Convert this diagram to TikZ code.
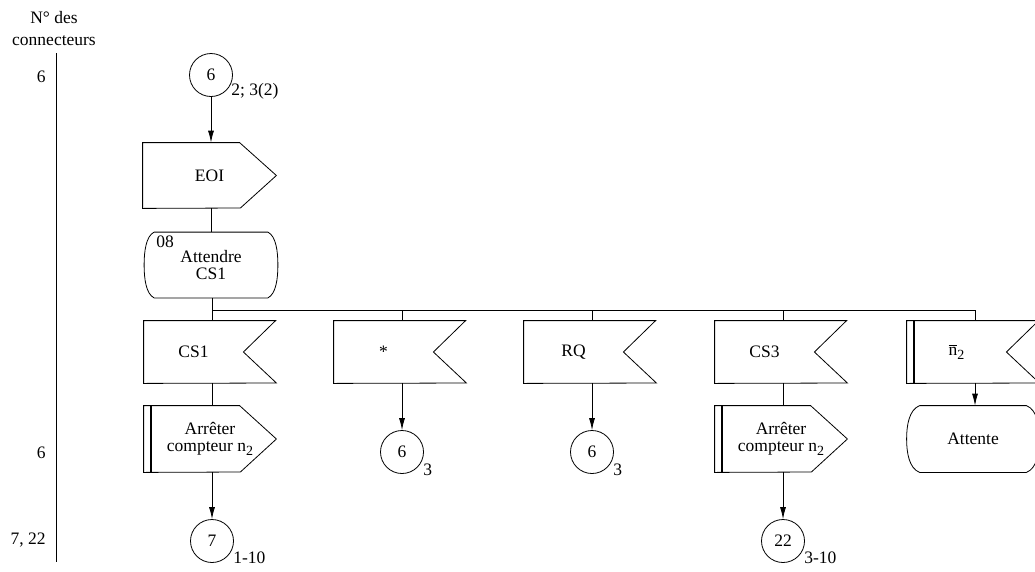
\documentclass[tikz,border=0pt]{standalone}
\usepackage{fontspec}
\setmainfont{Liberation Serif}
\usepackage{tikz}
\usetikzlibrary{arrows.meta}

\tikzset{
    texte/.style={font=\fontsize{17.5}{17}\selectfont},
    boite/.style={texte, inner sep=0pt, align=center},
    connecteur/.style={texte, draw, circle, minimum size=43pt, inner sep=0pt},
    renvoi/.style={texte, anchor=west, inner sep=0pt},
}

\begin{document}
\begin{tikzpicture}[x=1pt, y=-1pt, line width=0.8pt, >={Latex[length=12pt, width=6pt]}]
\useasboundingbox (0,0) rectangle (1035,571);

% Colonne des numéros de connecteurs
\node[align=center, inner sep=0pt, font=\fontsize{17.5}{22}\selectfont] (titre) at (54,29) {N° des\\connecteurs};
\coordinate (haut) at (56,53);
\coordinate (bas) at (56,562);
\draw (haut) -- (bas);
\foreach \y/\num in {77/6, 453/6, 540/{7, 22}}{
    \node[texte, anchor=east, inner sep=0pt] (num\y) at (46,\y) {\num};
}

% Connecteur d'entrée
\node[connecteur] (c6) at (211,75) {6};
\node[renvoi] (r6) at (231,91) {2; 3(2)};

% Sortie EOI
\node[boite, minimum width=133pt, minimum height=65pt] (EOI) at (209.5,175.5) {EOI};
\draw (EOI.north west) -- ++(97,0) -- (EOI.east) -- ++(-36,32.5) -- (EOI.south west) -- cycle;
\draw[->] (c6.south) -- (c6.south |- EOI.north);

% États
\node[boite, minimum width=133pt, minimum height=65pt] (att) at (211,265) {Attendre\\CS1};
\node[texte, inner sep=0pt] (etat) at (165,242) {08};
\node[boite, minimum width=132pt, minimum height=66pt] (attente) at (973,439) {Attente};
\foreach \n/\d in {att/10, attente/13}{
    \draw ([xshift=\d]\n.north west) -- ([xshift=-\d]\n.north east)
        .. controls +(0.8*\d,4) and +(0,-14) .. (\n.east)
        .. controls +(0,14) and +(0.8*\d,-4) .. ([xshift=-\d]\n.south east)
        -- ([xshift=\d]\n.south west)
        .. controls +(-0.8*\d,-4) and +(0,14) .. (\n.west)
        .. controls +(0,-14) and +(-0.8*\d,4) .. ([xshift=\d]\n.north west);
}
\draw (c6.south |- EOI.south) -- (c6.south |- att.north);

% Entrées
\foreach \x/\nom/\txt in {212/CS1/CS1, 402/etoile/*, 592/RQ/RQ, 783/CS3/CS3, 975/nb/{$\overline{\mbox{n}}$\raisebox{-4pt}{\fontsize{14}{14}\selectfont 2}}}{
    \coordinate (b\nom) at (\x,310);
    \node[boite, minimum width=99pt, minimum height=62pt] (e\nom) at (\x-18.5,352) {\txt};
    \draw (e\nom.north west) -- ++(132,0) -- (e\nom.east) -- ++(33,31) -- (e\nom.south west) -- cycle;
    \draw (b\nom) -- (b\nom |- e\nom.north);
}
\draw[line width=1.8pt] ([xshift=7]enb.north west) -- ([xshift=7]enb.south west);
\draw (bCS1 |- att.south) -- (bCS1) -- (bnb);
\draw[->] (bnb |- enb.south) -- (bnb |- attente.north);

% Tâches et connecteurs de sortie
\foreach \x/\nom/\num/\lab in {212/CS1/7/1-10, 783/CS3/22/3-10}{
    \node[boite, minimum width=132pt, minimum height=66pt] (s\nom) at (\x-2,439) {Arrêter\\compteur n\raisebox{-4pt}{\fontsize{14}{14}\selectfont 2}};
    \draw (s\nom.north west) -- ++(96,0) -- (s\nom.east) -- ++(-36,33) -- (s\nom.south west) -- cycle;
    \draw[line width=1.8pt] ([xshift=7]s\nom.north west) -- ([xshift=7]s\nom.south west);
    \draw (b\nom |- e\nom.south) -- (b\nom |- s\nom.north);
    \node[connecteur] (f\nom) at (\x,541) {\num};
    \node[renvoi] (l\nom) at (\x+21,558) {\lab};
    \draw[->] (b\nom |- s\nom.south) -- (f\nom.north);
}

\foreach \x/\nom in {402/etoile, 592/RQ}{
    \node[connecteur] (f\nom) at (\x,452) {6};
    \node[renvoi] (l\nom) at (\x+21,470) {3};
    \draw[->] (b\nom |- e\nom.south) -- (f\nom.north);
}
\end{tikzpicture}
\end{document}
